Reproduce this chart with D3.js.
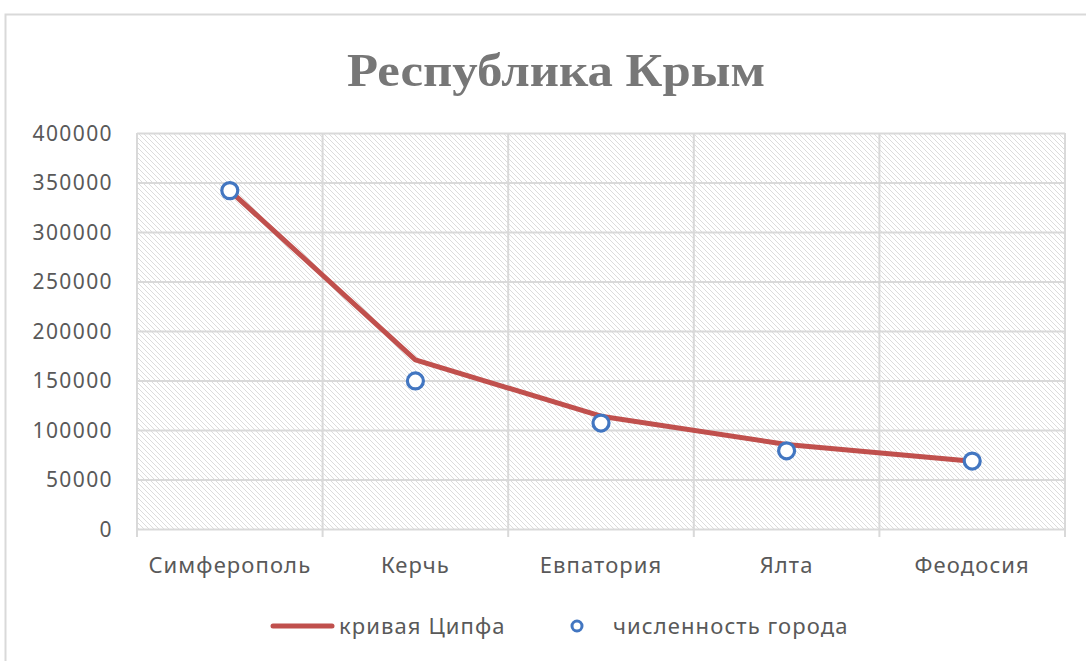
<!DOCTYPE html>
<html>
<head>
<meta charset="utf-8">
<script src="https://cdn.jsdelivr.net/npm/d3@7"></script>
<style>
  html, body { margin: 0; padding: 0; background: #fff; }
  svg { display: block; }
</style>
</head>
<body>
<svg id="chart" width="1086" height="661"></svg>
<script>
const titleText = "Республика Крым";
const categories = ["Симферополь", "Керчь", "Евпатория", "Ялта", "Феодосия"];
const zipfValues = [341799, 170900, 113933, 85450, 68360];
const populationValues = [341799, 149566, 107000, 79000, 68600];
const yTickValues = [0, 50000, 100000, 150000, 200000, 250000, 300000, 350000, 400000];
const seriesNames = ["кривая Ципфа", "численность города"];

(function () {
const svg = d3.select("#chart");
const pLeft = 137, pRight = 1065, pTop = 133, pBottom = 529;
const labelFont = "'Noto Sans', 'Open Sans', sans-serif";

const defs = svg.append("defs");
const pat = defs.append("pattern")
  .attr("id", "hatch").attr("patternUnits", "userSpaceOnUse")
  .attr("width", 5).attr("height", 5);
pat.append("rect").attr("width", 5).attr("height", 5).attr("fill", "#ffffff");
pat.append("path").attr("d", "M-1,-1 L6,6 M-1,4 L1,6 M4,-1 L6,1")
  .attr("stroke", "#dcdcdc").attr("stroke-width", 1);

// outer chart border
svg.append("rect").attr("x", 5.5).attr("y", 14.5).attr("width", 1200).attr("height", 800)
  .attr("fill", "#fff").attr("stroke", "#d9d9d9").attr("stroke-width", 2);

const x = d3.scaleBand().domain(categories).range([pLeft, pRight]);
const y = d3.scaleLinear().domain([0, 400000]).range([pBottom, pTop]);

// plot background
svg.append("rect").attr("x", pLeft).attr("y", pTop).attr("width", pRight - pLeft).attr("height", pBottom - pTop)
  .attr("fill", "url(#hatch)");

// horizontal gridlines
const yAxis = d3.axisLeft(y).tickValues(yTickValues).tickSize(-(pRight - pLeft)).tickFormat(d => d);
const gy = svg.append("g").attr("transform", `translate(${pLeft},0)`).call(yAxis);
gy.select(".domain").remove();
gy.selectAll(".tick line").attr("stroke", "#d9d9d9").attr("stroke-width", 2);
gy.selectAll(".tick text")
  .attr("x", -24).attr("dy", "0.35em")
  .attr("fill", "#595959")
  .style("font-family", labelFont)
  .style("font-size", "21px")
  .style("letter-spacing", "1.4px")
  .attr("text-anchor", "end");

// vertical gridlines at category boundaries
const edges = categories.map(c => x(c)).concat([x.range()[1]]);
svg.append("g").selectAll("line").data(edges).join("line")
  .attr("x1", d => d).attr("x2", d => d)
  .attr("y1", pTop).attr("y2", pBottom + 8)
  .attr("stroke", "#d9d9d9").attr("stroke-width", 2);

// x labels
const xAxis = d3.axisBottom(x).tickSize(0).tickPadding(0);
const gx = svg.append("g").attr("transform", `translate(0,${pBottom})`).call(xAxis);
gx.select(".domain").remove();
gx.selectAll(".tick text")
  .attr("y", 44).attr("dy", 0)
  .attr("fill", "#595959")
  .style("font-family", labelFont)
  .style("font-size", "22px")
  .style("letter-spacing", "1.1px");

// title
svg.append("text").attr("x", 556).attr("y", 86).attr("text-anchor", "middle")
  .attr("fill", "#777777")
  .style("font-family", "'Liberation Serif', 'DejaVu Serif', serif")
  .style("font-weight", "bold").style("font-size", "46px")
  .attr("textLength", 418).attr("lengthAdjust", "spacingAndGlyphs")
  .text(titleText);

// zipf line
const cx = c => x(c) + x.bandwidth() / 2;
const line = d3.line().x((d, i) => cx(categories[i])).y(d => y(d));
svg.append("path").datum(zipfValues).attr("d", line)
  .attr("fill", "none").attr("stroke", "#c0504d").attr("stroke-width", 5)
  .attr("stroke-linejoin", "round").attr("stroke-linecap", "round");

// population markers
svg.append("g").selectAll("circle").data(populationValues).join("circle")
  .attr("cx", (d, i) => cx(categories[i])).attr("cy", d => y(d)).attr("r", 8)
  .attr("fill", "#fff").attr("stroke", "#4276c1").attr("stroke-width", 3.2);

// legend
const lg = svg.append("g");
const ly = 626;
lg.append("line").attr("x1", 273).attr("x2", 332).attr("y1", ly).attr("y2", ly)
  .attr("stroke", "#c0504d").attr("stroke-width", 5).attr("stroke-linecap", "round");
lg.append("text").attr("x", 339).attr("y", ly).attr("dy", "0.35em")
  .attr("fill", "#595959")
  .style("font-family", labelFont).style("font-size", "22px")
  .style("letter-spacing", "1.1px")
  .text(seriesNames[0]);
lg.append("circle").attr("cx", 577).attr("cy", ly).attr("r", 5)
  .attr("fill", "#fff").attr("stroke", "#4276c1").attr("stroke-width", 3);
lg.append("text").attr("x", 613).attr("y", ly).attr("dy", "0.35em")
  .attr("fill", "#595959")
  .style("font-family", labelFont).style("font-size", "22px")
  .style("letter-spacing", "1.1px")
  .text(seriesNames[1]);
})();
</script>
</body>
</html>
